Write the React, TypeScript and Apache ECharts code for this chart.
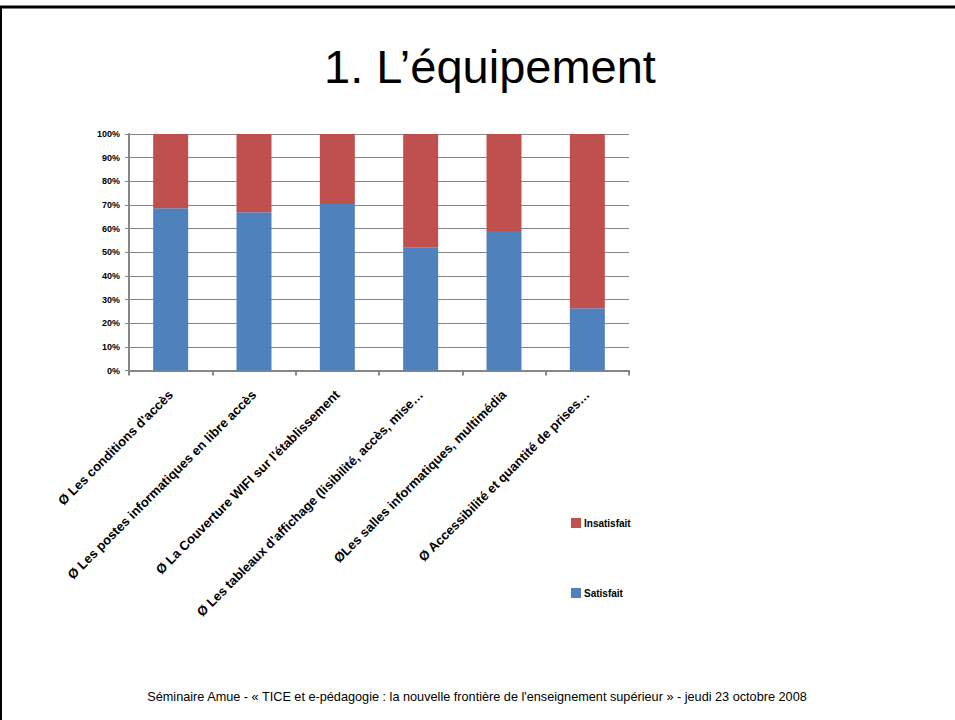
import React, { useEffect, useRef } from "react";
import * as echarts from "echarts";

const categories: string[] = [
  "Ø Les conditions d'accès",
  "Ø Les postes informatiques en libre accès",
  "Ø La Couverture WIFI sur l'établissement",
  "Ø Les tableaux d'affichage (lisibilité, accès, mise…",
  "ØLes salles informatiques, multimédia",
  "Ø Accessibilité et quantité de prises…",
];
const satisfait: number[] = [68.6, 66.9, 70.4, 52.1, 59.0, 26.3];
const insatisfait: number[] = [31.4, 33.1, 29.6, 47.9, 41.0, 73.7];
const yTicks: number[] = [0, 10, 20, 30, 40, 50, 60, 70, 80, 90, 100];

const titleText = "1. L’équipement";
const footerText =
  "Séminaire Amue - « TICE et e-pédagogie : la nouvelle frontière de l'enseignement supérieur » - jeudi 23 octobre 2008";

export default function App() {
  const ref = useRef<HTMLDivElement>(null);
  useEffect(() => {
    document.body.style.margin = "0";
    if (!ref.current) return;
    const chart = echarts.init(ref.current, undefined, { renderer: "svg" });
    const font = "'Liberation Sans', Arial, sans-serif";
    chart.setOption({
      animation: false,
      backgroundColor: "#ffffff",
      textStyle: { fontFamily: font },
      grid: { left: 129, right: 326, top: 134, bottom: 349.5, containLabel: false },
      legend: {
        orient: "vertical",
        left: 566,
        top: 513,
        itemGap: 60,
        itemWidth: 10,
        itemHeight: 10,
        icon: "rect",
        data: ["Insatisfait", "Satisfait"],
        textStyle: { fontFamily: font, fontSize: 10, fontWeight: "bold", color: "#000", padding: [0, 0, 0, -2] },
      },
      xAxis: {
        type: "category",
        data: categories,
        axisLine: { lineStyle: { color: "#868686", width: 2 } },
        axisTick: { show: true, length: 5, lineStyle: { color: "#868686", width: 2 }, alignWithLabel: false },
        axisLabel: {
          interval: 0,
          rotate: 45,
          margin: 22,
          fontFamily: font,
          fontSize: 13,
          fontWeight: "bold",
          color: "#000",
        },
      },
      yAxis: {
        type: "value",
        min: 0,
        max: 100,
        interval: 10,
        axisLine: { show: true, lineStyle: { color: "#868686", width: 2 } },
        axisTick: { show: true, length: 4, lineStyle: { color: "#868686", width: 1 } },
        splitLine: { show: true, lineStyle: { color: "#868686", width: 1 } },
        axisLabel: {
          margin: 9,
          fontFamily: font,
          fontSize: 9,
          fontWeight: "bold",
          color: "#000",
          formatter: (v: number) => (yTicks.includes(v) ? v + "%" : ""),
        },
      },
      series: [
        {
          name: "Satisfait",
          type: "bar",
          stack: "total",
          data: satisfait,
          barWidth: 35,
          itemStyle: { color: "#4F81BD" },
        },
        {
          name: "Insatisfait",
          type: "bar",
          stack: "total",
          data: insatisfait,
          barWidth: 35,
          itemStyle: { color: "#C0504D" },
        },
      ],
      graphic: [
        { type: "line", shape: { x1: 0, y1: 7, x2: 955, y2: 7 }, style: { stroke: "#000", lineWidth: 3 } },
        { type: "line", shape: { x1: 1, y1: 6, x2: 1, y2: 720 }, style: { stroke: "#000", lineWidth: 2 } },
        {
          type: "text",
          x: 490,
          y: 66,
          style: {
            text: titleText,
            fontFamily: font,
            fontSize: 47,
            fill: "#000",
            align: "center",
            verticalAlign: "middle",
          },
        },
        {
          type: "text",
          x: 477,
          y: 697,
          style: {
            text: footerText,
            fontFamily: font,
            fontSize: 12.7,
            fill: "#000",
            align: "center",
            verticalAlign: "middle",
          },
        },
      ],
    });
    return () => chart.dispose();
  }, []);
  return <div ref={ref} style={{ position: "absolute", left: 0, top: 0, width: 955, height: 720 }} />;
}
